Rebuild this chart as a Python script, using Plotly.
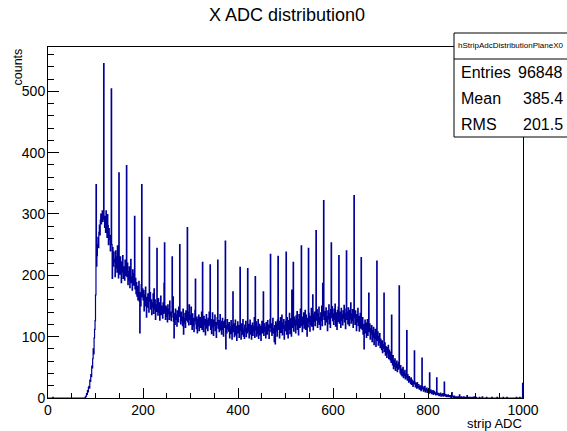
import plotly.graph_objects as go

# ---- data (bin contents, 1 ADC per bin, 0..999) ----
bin_low = 0
bin_high = 1000
adc_counts = [
    0,0,0,0,0,0,0,0,0,0,1,0,0,0,0,0,0,0,0,0,
    0,0,0,0,0,0,0,0,0,0,0,0,0,0,0,0,0,0,0,0,
    0,0,0,0,0,0,0,0,0,0,0,0,0,0,0,0,0,0,0,0,
    0,0,0,0,0,0,0,0,0,0,0,0,0,0,0,0,0,0,1,2,
    3,7,6,12,10,17,19,16,29,27,38,35,52,49,64,80,72,98,112,126,
    168,348,215,232,250,262,245,270,282,266,290,300,284,296,305,288,300,545,292,278,
    296,270,305,288,262,299,281,250,276,258,265,240,262,504,250,195,245,215,238,222,
    226,198,240,212,230,205,248,218,196,367,225,202,230,210,188,222,205,232,195,214,
    210,192,225,200,215,379,198,220,185,206,192,214,180,203,226,188,197,176,209,190,
    184,203,296,178,195,170,188,166,182,160,176,190,158,106,172,150,185,348,165,178,
    160,175,142,168,150,181,156,132,164,148,170,152,140,262,158,172,145,160,136,155,
    148,170,138,178,145,160,128,152,141,244,150,135,162,140,155,127,148,166,136,150,
    142,130,155,138,187,253,140,128,150,133,146,124,152,137,145,128,158,134,140,126,
    132,230,140,165,125,98,138,120,145,128,135,117,142,130,124,148,133,250,138,121,
    140,126,132,118,145,104,130,122,138,115,142,127,136,278,124,140,119,152,128,135,
    120,148,126,112,137,118,130,108,126,143,194,121,113,132,106,128,117,135,110,124,
    131,115,127,140,112,221,125,108,133,119,128,103,122,136,114,126,110,130,118,140,
    121,217,112,128,105,124,139,116,102,127,118,135,110,123,99,120,131,225,114,126,
    108,122,136,111,125,104,119,130,112,101,124,115,127,256,80,118,106,128,113,120,
    109,123,98,116,105,126,112,96,119,173,108,121,100,114,127,103,117,94,112,124,
    106,118,99,113,213,110,96,121,104,115,128,101,112,97,119,108,125,100,114,106,
    211,109,120,98,115,127,104,118,96,113,122,102,117,108,131,99,198,111,124,101,
    116,105,128,97,112,120,103,117,94,110,125,106,118,173,102,121,109,115,98,123,
    112,104,126,110,119,97,115,128,234,108,121,102,117,130,106,113,92,118,88,124,
    109,121,101,127,231,112,125,98,116,131,107,119,135,103,122,114,128,96,118,110,
    125,238,104,131,117,98,126,112,138,105,120,129,101,176,115,124,221,109,132,118,
    127,106,134,119,141,112,128,103,136,121,115,145,118,248,125,108,132,120,139,114,
    127,143,112,135,122,101,130,116,244,138,124,109,133,120,146,117,129,168,111,136,
    125,140,118,132,273,127,144,115,137,123,148,120,131,112,139,126,150,118,187,134,
    322,128,141,119,136,147,124,133,110,142,129,152,121,138,115,144,253,131,149,126,
    137,120,145,128,153,117,139,130,112,143,125,148,232,122,140,131,115,146,127,136,
    119,142,130,151,124,138,113,145,240,128,140,121,147,134,118,143,129,155,122,137,
    126,144,115,139,330,131,120,142,128,110,136,124,146,118,133,109,129,138,114,229,
    126,112,131,104,120,80,118,127,106,122,99,115,128,102,117,171,108,121,96,113,
    104,118,92,110,99,115,87,106,97,112,84,101,223,94,108,86,100,91,105,82,
    96,88,79,93,74,87,81,171,76,90,70,84,77,66,82,73,86,64,78,71,
    62,75,58,135,66,54,69,48,61,52,64,45,57,50,60,43,55,47,58,183,
    49,41,53,38,47,36,44,50,33,42,37,45,31,39,34,110,29,38,32,26,
    35,27,31,24,33,22,29,25,19,27,23,77,26,18,24,21,16,25,20,17,
    22,15,19,14,20,12,17,65,15,18,11,16,13,19,10,14,12,16,9,13,
    11,14,8,41,12,9,13,7,10,8,12,6,9,11,7,8,5,9,33,6,
    8,5,7,4,6,5,8,3,6,4,5,7,3,5,26,4,6,3,5,2,
    4,3,5,2,4,3,2,4,1,3,9,2,3,1,2,3,1,2,0,2,
    1,2,1,0,2,1,5,1,0,1,2,0,1,1,0,2,1,0,1,0,
    1,0,4,0,1,0,0,1,0,0,1,0,0,0,1,0,0,2,0,0,
    0,1,0,0,0,0,0,0,1,0,0,0,0,0,2,0,0,0,0,0,
    0,0,0,1,0,0,0,0,0,0,0,0,0,0,1,0,0,0,0,0,
    0,0,0,0,0,1,0,0,0,0,0,0,0,0,0,0,0,0,1,0,
    0,0,0,0,0,0,1,0,0,0,0,0,0,0,0,0,0,0,0,0,
    0,0,0,0,0,0,1,0,0,0,0,0,0,1,0,0,0,0,0,24,
]

hist_name = "hStripAdcDistributionPlaneX0"
stat_labels = ["Entries", "Mean", "RMS"]
stat_values = ["96848", "385.4", "201.5"]
x_ticks = [0, 200, 400, 600, 800, 1000]
y_ticks = [0, 100, 200, 300, 400, 500]

FONT = "Liberation Sans, Arial, Helvetica, sans-serif"
W, H = 567, 431
L, R, T, B = 48, 523, 47, 398  # frame in pixels

def px_x(p):
    return (p - L) / (R - L)

def px_y(p):
    return (B - p) / (B - T)

nbins = len(adc_counts)
bw = (bin_high - bin_low) / nbins
edges = [bin_low + i * bw for i in range(nbins + 1)]
yvals = adc_counts + [adc_counts[-1]]

fig = go.Figure()
fig.add_trace(go.Scatter(
    x=edges, y=yvals, mode="lines",
    line=dict(shape="hv", color="#000099", width=1.2),
    hoverinfo="skip", showlegend=False,
))

ymax = max(adc_counts) * 1.05

axis_common = dict(
    showgrid=False, zeroline=False, showline=True, linecolor="black",
    linewidth=1, mirror=True, ticks="inside", tickcolor="black",
    tickfont=dict(family=FONT, size=14, color="black"),
)
fig.update_xaxes(range=[bin_low, bin_high], tickvals=x_ticks, ticklen=10,
                 minor=dict(dtick=50, tick0=0, ticklen=5, ticks="inside", tickcolor="black"),
                 ticklabelstandoff=-1, **axis_common)
fig.update_yaxes(range=[0, ymax], tickvals=y_ticks, ticklen=11,
                 minor=dict(dtick=20, tick0=0, ticklen=6, ticks="inside", tickcolor="black"),
                 ticklabelstandoff=-1, **axis_common)

shapes = [
    dict(type="rect", xref="paper", yref="paper",
         x0=px_x(454), x1=px_x(600), y0=px_y(137), y1=px_y(33),
         line=dict(color="black", width=1), fillcolor="white", layer="above"),
    dict(type="line", xref="paper", yref="paper",
         x0=px_x(454), x1=px_x(600), y0=px_y(59), y1=px_y(59),
         line=dict(color="black", width=1), layer="above"),
]

ann = [
    dict(text=hist_name, x=px_x(510), y=px_y(46), xanchor="center", yanchor="middle",
         font=dict(family=FONT, size=8, color="black")),
    dict(text="strip ADC", x=1.0, y=px_y(424), xanchor="right", yanchor="middle",
         borderpad=0, font=dict(family=FONT, size=13, color="black")),
    dict(text="counts", x=px_x(17), y=px_y(47), xanchor="center", yanchor="top", textangle=-90,
         font=dict(family=FONT, size=12.5, color="black")),
]
row_y = [72, 98, 124]
for lab, val, ry in zip(stat_labels, stat_values, row_y):
    ann.append(dict(text=lab, x=px_x(459), y=px_y(ry), xanchor="left", yanchor="middle",
                    font=dict(family=FONT, size=16, color="black")))
    ann.append(dict(text=val, x=px_x(565), y=px_y(ry), xanchor="right", yanchor="middle",
                    font=dict(family=FONT, size=16, color="black")))
for a in ann:
    a.update(xref="paper", yref="paper", showarrow=False)

fig.update_layout(
    width=W, height=H,
    margin=dict(l=L, r=W - R, t=T, b=H - B, pad=0),
    plot_bgcolor="white", paper_bgcolor="white",
    title=dict(text="X ADC distribution0", x=287 / W, xanchor="center",
               y=1 - 15 / H, yanchor="middle",
               font=dict(family=FONT, size=18, color="black")),
    shapes=shapes, annotations=ann, showlegend=False,
)

fig.write_html("out.html")
